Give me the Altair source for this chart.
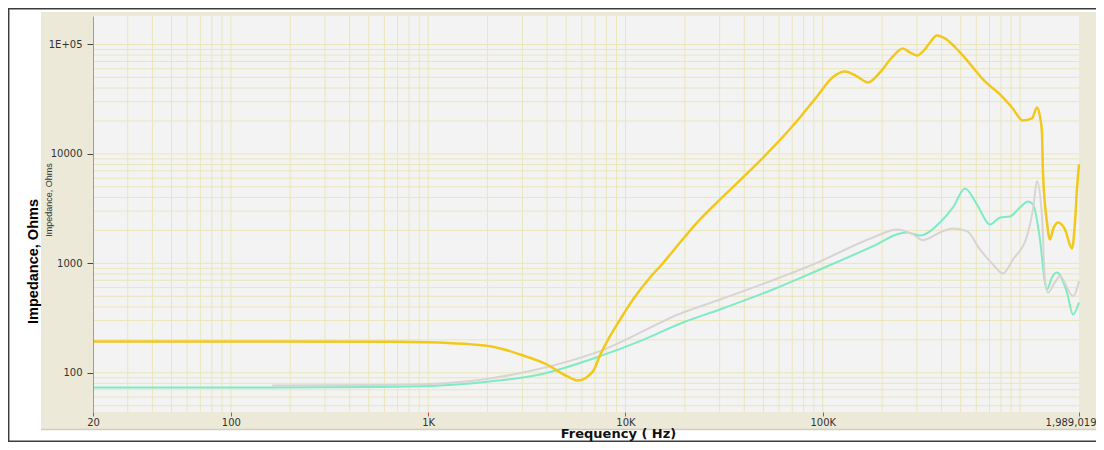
import altair as alt
import pandas as pd

# ---------------- data ----------------
yellow_freq = [20, 162, 700, 1010, 2056, 2918, 4000, 5050, 5740, 6840, 7430, 8150, 9376,
               10914, 13310, 14960, 20040, 23860, 29080, 39400, 55900, 76600, 93460, 112600,
               129600, 149000, 169400, 194900, 224200, 254950, 276600, 300200, 322000, 349400,
               379000, 416200, 496000, 577000, 648600, 791000, 909800, 1034000, 1148800,
               1218000, 1261000, 1291000, 1306000, 1369000, 1417000, 1468000, 1557000,
               1689000, 1832000, 1898000, 1942000, 1989019]
yellow_imp = [193, 193, 192, 190, 175, 147, 119, 93, 85, 103, 145, 200, 305,
              467, 743, 935, 1760, 2517, 3597, 6090, 11450, 21530, 33500, 50470,
              56680, 51030, 44960, 55490, 76090, 91960, 84530, 79350, 86300, 104300,
              120900, 113500, 84530, 61660, 47880, 34930, 26570, 20210, 21080,
              26570, 21980, 15700, 6767, 2363, 1652, 2039, 2363,
              2039, 1367, 2363, 4732, 8007]

cyan_freq = [20, 162, 570, 1010, 2056, 3686, 7430, 11840, 19560, 30120, 55900, 96760,
             179700, 246200, 267100, 310900, 392600, 457000, 525800, 604600, 703800,
             791000, 888800, 998600, 1097000, 1163000, 1261000, 1337000, 1369000,
             1451000, 1538000, 1729000, 1854000, 1989019]
cyan_imp = [73.4, 73.4, 74.2, 75.8, 83.3, 96.5, 141.8, 194.5, 288, 379, 577, 879,
            1435, 1875, 1915, 1797, 2363, 3240, 4833, 3451, 2266,
            2626, 2682, 3240, 3676, 3451, 1652, 669, 577,
            743, 825, 542, 341, 439]

gray_freq = [162, 570, 1010, 2056, 3686, 7430, 19560, 30120, 60680, 89180, 179700,
             237700, 286600, 322000, 392600, 457000, 538200, 626000, 728800, 819200,
             920600, 1084000, 1163000, 1218000, 1291000, 1337000, 1384000, 1502000,
             1593000, 1854000, 1989019]
gray_imp = [76.5, 77.4, 79, 88.7, 108.8, 157.6, 355.6, 467, 743, 976, 1723,
            2039, 1836, 1628, 1915, 2083, 1968, 1339, 976, 808,
            1085, 1772, 3107, 5636, 2699, 712, 538, 669,
            763, 501, 687]

x_grid = [30, 40, 50, 60, 70, 80, 90,
          100, 200, 300, 400, 500, 600, 700, 800, 900,
          1000, 2000, 3000, 4000, 5000, 6000, 7000, 8000, 9000,
          10000, 20000, 30000, 40000, 50000, 60000, 70000, 80000, 90000,
          100000, 200000, 300000, 400000, 500000, 600000, 700000, 800000, 900000,
          1000000]
y_grid = [50, 60, 70, 80, 90,
          100, 200, 300, 400, 500, 600, 700, 800, 900,
          1000, 2000, 3000, 4000, 5000, 6000, 7000, 8000, 9000,
          10000, 20000, 30000, 40000, 50000, 60000, 70000, 80000, 90000,
          100000]

x_tick_values = [20, 100, 1000, 10000, 100000, 1989019]
x_tick_labels = ["20", "100", "1K", "10K", "100K", "1,989,019"]
y_tick_values = [100, 1000, 10000, 100000]
y_tick_labels = ["100", "1000", "10000", "1E+05"]

x_domain = [20, 1989019]
y_domain = [43.8, 182000]

# ---------------- chart ----------------
W, H = 986, 396
GRID = "#eae6bb"
LABEL_FONT = "DejaVu Sans"
NARROW = "'Liberation Sans', Arial, sans-serif"


def label_expr(values, labels):
    parts = [f"datum.value == {v} ? '{l}'" for v, l in zip(values, labels)]
    return " : ".join(parts) + " : ''"


xscale = alt.Scale(type="log", domain=x_domain, nice=False)
yscale = alt.Scale(type="log", domain=y_domain, nice=False)

last_x = x_tick_values[-1]
x_axis = alt.Axis(values=x_tick_values, labelExpr=label_expr(x_tick_values, x_tick_labels),
                  grid=False, domain=False, tickColor="#d04a3c", tickSize=4, tickWidth=1,
                  labelFont=LABEL_FONT, labelFontSize=10, labelColor="#333333",
                  labelPadding=1, zindex=1,
                  labelAlign=alt.ConditionalAxisLabelAlign(
                      condition={"test": f"datum.value >= {last_x}", "value": "right"},
                      value="center"),
                  labelOffset=alt.ConditionalAxisNumber(
                      condition={"test": f"datum.value >= {last_x}", "value": 17},
                      value=0),
                  title="Frequency ( Hz)", titleFont=LABEL_FONT, titleFontSize=13,
                  titleFontWeight="bold", titleColor="#111111",
                  titleX=525, titleY=25, titleAlign="center", titleBaseline="alphabetic")
y_axis = alt.Axis(values=y_tick_values, labelExpr=label_expr(y_tick_values, y_tick_labels),
                  grid=False, domain=True, domainColor="#9c9c9c", domainWidth=1,
                  tickColor="#444444", tickSize=6, tickWidth=1,
                  labelFont=LABEL_FONT, labelFontSize=10, labelColor="#333333",
                  labelPadding=5, zindex=1,
                  title="Impedance, Ohms", titleFont=NARROW, titleFontSize=14.5,
                  titleFontWeight="bold", titleColor="#000000", titleAngle=270,
                  titleX=-60, titleY=245, titleAlign="center", titleBaseline="middle")

one = pd.DataFrame({"k": [0]})

panel = alt.Chart(one).mark_rect(color="#ece9d8").encode(
    x=alt.value(-52), x2=alt.value(1011), y=alt.value(-4), y2=alt.value(413))
panel_edge = alt.Chart(one).mark_rule(color="#d2cebf", strokeWidth=1.5).encode(
    x=alt.value(-52), x2=alt.value(1011), y=alt.value(413.5))
plot_fill = alt.Chart(one).mark_rect(color="#f3f3f3").encode(
    x=alt.value(0), x2=alt.value(W), y=alt.value(0), y2=alt.value(H))

vgrid = alt.Chart(pd.DataFrame({"f": x_grid})).mark_rule(color=GRID, strokeWidth=1).encode(
    x=alt.X("f:Q", scale=xscale, axis=x_axis, title="Frequency ( Hz)"))
hgrid = alt.Chart(pd.DataFrame({"z": y_grid})).mark_rule(color=GRID, strokeWidth=1).encode(
    y=alt.Y("z:Q", scale=yscale, axis=y_axis, title="Impedance, Ohms"))


def series_line(freq, imp, color, width):
    df = pd.DataFrame({"f": freq, "z": imp})
    return alt.Chart(df).mark_line(color=color, strokeWidth=width, interpolate="monotone").encode(
        x=alt.X("f:Q", scale=xscale, axis=x_axis, title="Frequency ( Hz)"),
        y=alt.Y("z:Q", scale=yscale, axis=y_axis, title="Impedance, Ohms"))


cyan = series_line(cyan_freq, cyan_imp, "#7eeac6", 2)
gray = series_line(gray_freq, gray_imp, "#d8d4d4", 2)
yellow = series_line(yellow_freq, yellow_imp, "#f2c81c", 2.5)

small_title = alt.Chart(one).mark_text(
    text="Impedance, Ohms", angle=270, font=NARROW, fontSize=9, color="#333333",
    align="center", baseline="middle").encode(x=alt.value(-44), y=alt.value(184))

border_left = alt.Chart(one).mark_rule(color="#3c3c3c", strokeWidth=1.5).encode(
    x=alt.value(-84.3), y=alt.value(-8), y2=alt.value(426))
border_top = alt.Chart(one).mark_rule(color="#3c3c3c", strokeWidth=1.5).encode(
    x=alt.value(-85), x2=alt.value(1011), y=alt.value(-7.3))
border_bottom = alt.Chart(one).mark_rule(color="#3c3c3c", strokeWidth=1.5).encode(
    x=alt.value(-85), x2=alt.value(1011), y=alt.value(425.2))

chart = alt.layer(
    panel, panel_edge, plot_fill, vgrid, hgrid, cyan, gray, yellow,
    small_title, border_left, border_top, border_bottom
).properties(
    width=W, height=H,
    autosize=alt.AutoSizeParams(type="none"),
    padding={"left": 85, "top": 8, "right": 17, "bottom": 30},
    background="white",
).configure_view(stroke=None)

chart.save("out.html", embed_options={"renderer": "svg", "actions": False})
